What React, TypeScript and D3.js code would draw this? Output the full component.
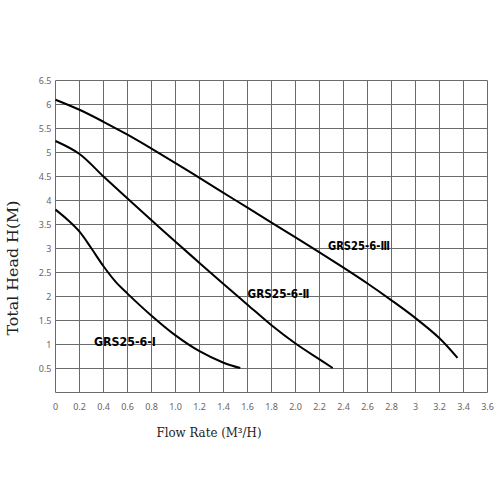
import React from "react";
import * as d3 from "d3";

const xTicks = [0, 0.2, 0.4, 0.6, 0.8, 1.0, 1.2, 1.4, 1.6, 1.8, 2.0, 2.2, 2.4, 2.6, 2.8, 3.0, 3.2, 3.4, 3.6];
const xTickLabels = ["0", "0.2", "0.4", "0.6", "0.8", "1.0", "1.2", "1.4", "1.6", "1.8", "2.0", "2.2", "2.4", "2.6", "2.8", "3", "3.2", "3.4", "3.6"];
const yTicks = [0.5, 1, 1.5, 2, 2.5, 3, 3.5, 4, 4.5, 5, 5.5, 6, 6.5];
const yTickLabels = ["0.5", "1", "1.5", "2", "2.5", "3", "3.5", "4", "4.5", "5", "5.5", "6", "6.5"];

const flowI = [0, 0.1, 0.2, 0.3, 0.4, 0.5, 0.6, 0.8, 1.0, 1.2, 1.4, 1.54];
const headI = [3.81, 3.6, 3.35, 3.0, 2.63, 2.31, 2.06, 1.6, 1.19, 0.86, 0.62, 0.51];

const flowII = [0, 0.2, 0.4, 0.6, 0.8, 1.0, 1.2, 1.4, 1.6, 1.8, 2.0, 2.2, 2.31];
const headII = [5.24, 4.97, 4.5, 4.04, 3.59, 3.14, 2.7, 2.26, 1.83, 1.4, 1.02, 0.69, 0.51];

const flowIII = [0, 0.2, 0.4, 0.6, 0.8, 1.0, 1.2, 1.4, 1.6, 1.8, 2.0, 2.2, 2.4, 2.6, 2.8, 3.0, 3.2, 3.35];
const headIII = [6.1, 5.89, 5.64, 5.37, 5.08, 4.78, 4.47, 4.16, 3.85, 3.54, 3.23, 2.92, 2.6, 2.27, 1.92, 1.55, 1.13, 0.72];

const seriesNames = ["GRS25-6-Ⅰ", "GRS25-6-Ⅱ", "GRS25-6-Ⅲ"];
const labelFlow = [0.32, 1.6, 2.27];
const labelHead = [1.0, 2.0, 3.0];

export default function App() {
  const x = d3.scaleLinear().domain([0, 3.6]).range([55.5, 487.5]);
  const y = d3.scaleLinear().domain([0, 6.5]).range([392.5, 80.5]);
  const line = d3
    .line<[number, number]>()
    .x((d) => x(d[0]))
    .y((d) => y(d[1]))
    .curve(d3.curveCatmullRom.alpha(0.5));

  const series = [
    flowI.map((f, i) => [f, headI[i]] as [number, number]),
    flowII.map((f, i) => [f, headII[i]] as [number, number]),
    flowIII.map((f, i) => [f, headIII[i]] as [number, number]),
  ];

  const gridColor = "#6a6a6a";
  const tickFont = "'Noto Sans', 'DejaVu Sans', sans-serif";
  const titleFont = "'DejaVu Serif', 'Liberation Serif', serif";

  return (
    <svg
      width={500}
      height={500}
      viewBox="0 0 500 500"
      style={{ position: "absolute", left: 0, top: 0, background: "#fff" }}
    >
      <rect x={0} y={0} width={500} height={500} fill="#fff" />
      {xTicks.map((t) => (
        <line
          key={"vx" + t}
          x1={x(t)}
          x2={x(t)}
          y1={y(0)}
          y2={y(6.5)}
          stroke={gridColor}
          strokeWidth={1}
        />
      ))}
      {[0, ...yTicks].map((t) => (
        <line
          key={"hy" + t}
          x1={x(0)}
          x2={x(3.6)}
          y1={y(t)}
          y2={y(t)}
          stroke={gridColor}
          strokeWidth={1}
        />
      ))}
      {yTicks.map((t, i) => (
        <text
          key={"yl" + t}
          x={x(0) - 4}
          y={y(t)}
          dy="0.35em"
          textAnchor="end"
          fontFamily={tickFont}
          fontSize={9}
          fill="#666"
        >
          {yTickLabels[i]}
        </text>
      ))}
      {xTicks.map((t, i) => (
        <text
          key={"xl" + t}
          x={x(t)}
          y={410}
          textAnchor="middle"
          fontFamily={tickFont}
          fontSize={9}
          fill="#666"
        >
          {xTickLabels[i]}
        </text>
      ))}
      {series.map((s, i) => (
        <path key={"s" + i} d={line(s) || ""} fill="none" stroke="#000" strokeWidth={2} />
      ))}
      {seriesNames.map((n, i) => (
        <text
          key={"lab" + i}
          x={x(labelFlow[i])}
          y={y(labelHead[i]) + 1}
          fontFamily="'DejaVu Sans Condensed', 'DejaVu Sans', sans-serif"
          fontWeight="bold"
          fontSize={12.5}
          textLength={62}
          lengthAdjust="spacingAndGlyphs"
          fill="#000"
        >
          {n}
        </text>
      ))}
      <text
        x={209}
        y={437}
        textAnchor="middle"
        fontFamily={titleFont}
        fontSize={12}
        textLength={105}
        lengthAdjust="spacingAndGlyphs"
        fill="#222"
      >
        Flow Rate (M³/H)
      </text>
      <text
        transform="translate(18,268) rotate(-90)"
        textAnchor="middle"
        fontFamily={titleFont}
        fontSize={14}
        textLength={135}
        lengthAdjust="spacingAndGlyphs"
        fill="#222"
      >
        Total Head H(M)
      </text>
    </svg>
  );
}
